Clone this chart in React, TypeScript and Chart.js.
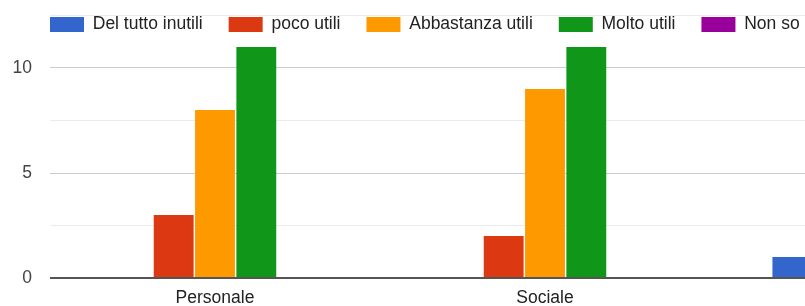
import React, { useEffect, useRef } from "react";
import { Chart, registerables } from "chart.js";

Chart.register(...registerables);

const categories = ["Personale", "Sociale", "Professionale"];
const seriesNames = ["Del tutto inutili", "poco utili", "Abbastanza utili", "Molto utili", "Non so"];
const delTuttoInutili = [0, 0, 1];
const pocoUtili = [3, 2, null];
const abbastanzaUtili = [8, 9, null];
const moltoUtili = [11, 11, null];
const nonSo = [0, 0, null];
const seriesColors = ["#3366cc", "#dc3912", "#ff9900", "#109618", "#990099"];
const yTickLabels = [0, 5, 10];

const FONT = "'Liberation Sans', Arial, sans-serif";

export default function App() {
  const ref = useRef<HTMLCanvasElement | null>(null);

  useEffect(() => {
    if (!ref.current) return;
    const seriesValues = [delTuttoInutili, pocoUtili, abbastanzaUtili, moltoUtili, nonSo];
    const legendOverlay = {
      id: "legendOverlay",
      beforeLayout(chart: any) {
        const l = chart.legend;
        if (l && !l.__patched) {
          const origFit = l.fit.bind(l);
          l.fit = () => {
            origFit();
            l.height = 0;
          };
          l.__patched = true;
        }
      },
      afterLayout(chart: any) {
        const l = chart.legend;
        if (l) {
          const pad = l.options.labels.padding;
          l.left = chart.chartArea.left - pad;
          l.top = 15.75 - pad;
          l.right = chart.width;
          l.bottom = 60;
          l.width = l.right - l.left;
          l.height = l.bottom - l.top;
        }
      },
    };
    const chart = new Chart(ref.current, {
      type: "bar",
      data: {
        labels: categories,
        datasets: seriesNames.map((name, i) => ({
          label: name,
          data: seriesValues[i],
          backgroundColor: seriesColors[i],
          borderWidth: 0,
          categoryPercentage: 0.626,
          barPercentage: 0.965,
        })),
      },
      options: {
        animation: false,
        responsive: false,
        maintainAspectRatio: false,
        layout: { padding: { top: 15.5, left: 0, right: 0, bottom: 0 } },
        plugins: {
          tooltip: { enabled: false },
          legend: {
            position: "top",
            align: "start",
            labels: {
              boxWidth: 34,
              boxHeight: 15,
              padding: 26,
              color: "#222222",
              font: { family: FONT, size: 17.5 },
            },
          },
        },
        scales: {
          x: {
            grid: { display: false },
            border: { display: false },
            ticks: {
              color: "#222222",
              padding: 2,
              font: { family: FONT, size: 17.5 },
              maxRotation: 0,
              autoSkip: false,
            },
            afterFit(scale: any) {
              scale.height = 28;
              scale.paddingLeft = 0;
              scale.paddingRight = 0;
            },
          },
          y: {
            min: 0,
            max: 12.5,
            border: { display: false },
            grid: {
              drawTicks: false,
              color: (ctx: any) => {
                const v = ctx.tick ? ctx.tick.value : 0;
                if (v === 0) return "#555555";
                return yTickLabels.includes(v) ? "#cccccc" : "#ebebeb";
              },
              lineWidth: (ctx: any) => (ctx.tick && ctx.tick.value === 0 ? 2 : 1),
            },
            ticks: {
              stepSize: 2.5,
              padding: 18,
              color: "#444444",
              font: { family: FONT, size: 17.5 },
              callback: (v: any) => (yTickLabels.includes(Number(v)) ? String(v) : ""),
            },
            afterFit(scale: any) {
              scale.width = 50;
              scale.paddingTop = 0;
              scale.paddingBottom = 0;
            },
          },
        },
      },
      plugins: [legendOverlay],
    });
    return () => chart.destroy();
  }, []);

  return (
    <div
      style={{
        position: "fixed",
        left: 0,
        top: 0,
        width: 805,
        height: 306,
        overflow: "hidden",
        background: "#ffffff",
      }}
    >
      <canvas ref={ref} width={1040} height={306} style={{ display: "block" }} />
    </div>
  );
}
